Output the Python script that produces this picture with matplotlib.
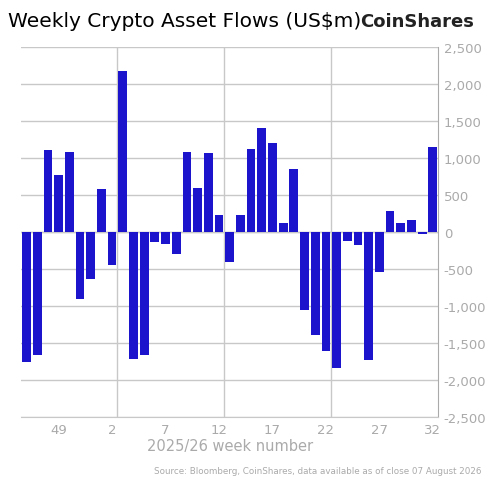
import matplotlib
matplotlib.use("Agg")
import matplotlib.pyplot as plt
import numpy as np

weeks = [46, 47, 48, 49, 50, 51, 52] + list(range(1, 33))
flows = [-1750, -1655, 1110, 775, 1085, -910, -640, 585, -450, 2180,
         -1720, -1665, -140, -155, -300, 1085, 600, 1070, 235, -410,
         235, 1120, 1410, 1205, 125, 855, -1060, -1395, -1610, -1840,
         -115, -180, -1735, -545, 285, 125, 165, -20, 1150]
tick_weeks = [49, 2, 7, 12, 17, 22, 27, 32]

grey = "#aaaaaa"
fig = plt.figure(figsize=(4.94, 4.85), dpi=100)
ax = fig.add_axes([0.043, 0.138, 0.844, 0.763])

x = np.arange(len(weeks))
ax.bar(x, flows, width=0.82, color="#1c14cc", zorder=3)

ax.set_xlim(-0.5, len(weeks) - 0.5)
ax.set_ylim(-2500, 2500)
ax.set_yticks(np.arange(-2500, 2501, 500))
ax.set_yticklabels(["{:,}".format(v) for v in range(-2500, 2501, 500)])
ax.yaxis.tick_right()
ax.grid(axis="y", color="#c8c8c8", lw=1, zorder=0)
for v in [8.5, 18.5, 28.5]:
    ax.axvline(v, color="#c8c8c8", lw=1, zorder=0)
ax.axhline(0, color="#c8c8c8", lw=1, zorder=1)

ax.set_xticks([weeks.index(w) for w in tick_weeks])
ax.set_xticklabels([str(w) for w in tick_weeks])
ax.tick_params(colors=grey, labelsize=9.5, length=0, pad=4)
for s in ["top", "left"]:
    ax.spines[s].set_visible(False)
ax.spines["right"].set_color(grey)
ax.spines["bottom"].set_color("#c8c8c8")
ax.set_xlabel("2025/26 week number", color=grey, fontsize=10.5, labelpad=2)

fig.text(0.016, 0.955, "Weekly Crypto Asset Flows (US$m)", fontsize=14.5, va="center")
fig.text(0.96, 0.955, "CoinShares", fontsize=13, fontweight="bold", ha="right", va="center", color="#222222")
fig.text(0.975, 0.027, "Source: Bloomberg, CoinShares, data available as of close 07 August 2026",
         fontsize=6.3, color=grey, ha="right", va="center")

fig.savefig("out.png", dpi=100)
